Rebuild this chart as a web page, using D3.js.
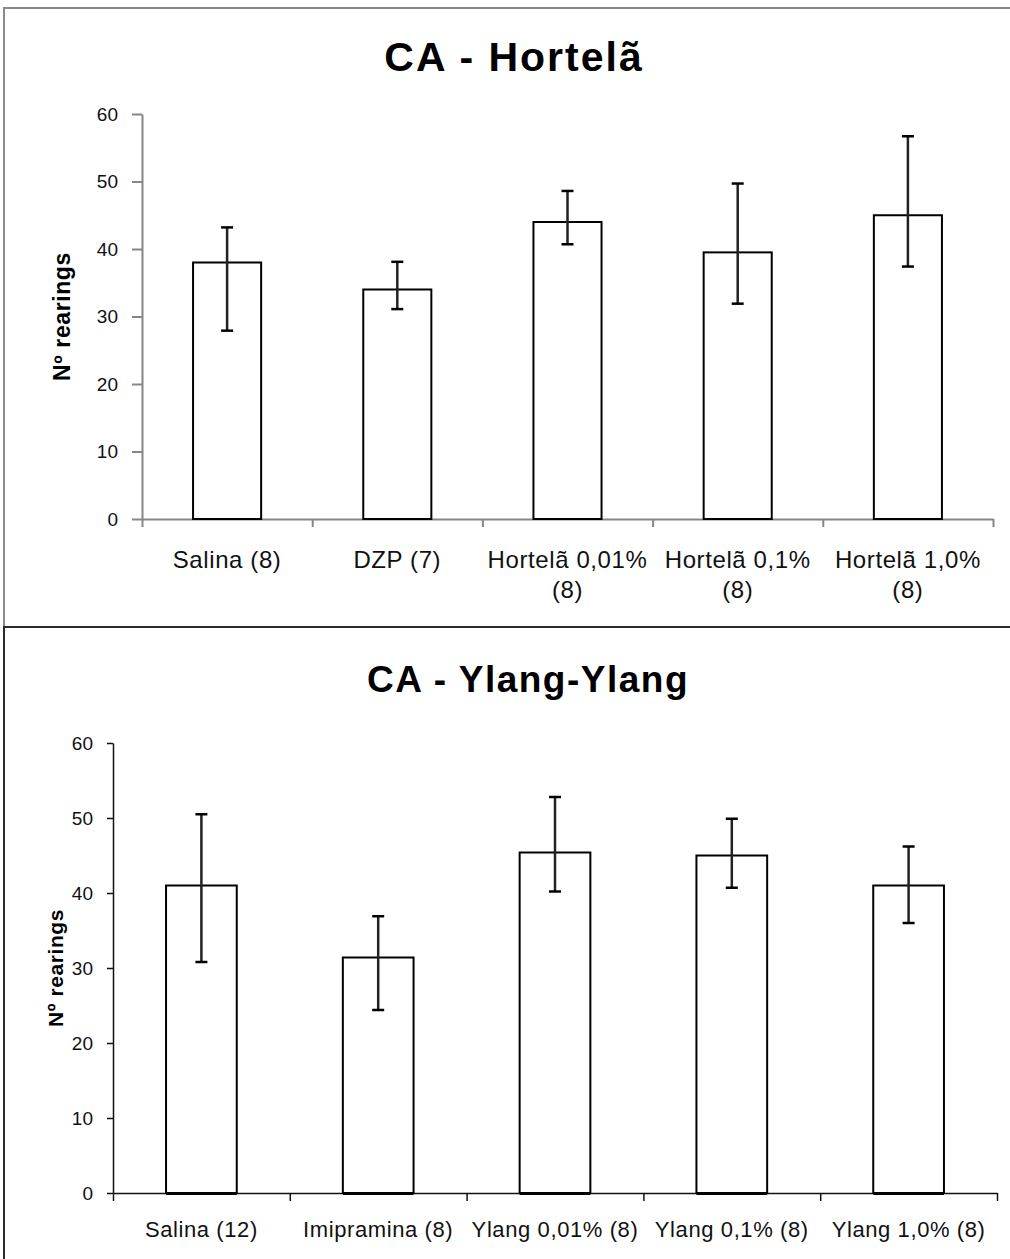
<!DOCTYPE html>
<html>
<head>
<meta charset="utf-8">
<script src="https://cdn.jsdelivr.net/npm/d3@7"></script>
<style>
  body { margin: 0; background: #fff; }
  text { font-family: "Liberation Sans", Arial, sans-serif; }
</style>
</head>
<body>
<script>
// ---- data ----
const topCategories = ["Salina (8)", "DZP (7)", "Hortelã 0,01%\n(8)", "Hortelã 0,1%\n(8)", "Hortelã 1,0%\n(8)"];
const topMeans = [38, 34, 44, 39.5, 45];
const topErrHigh = [43.2, 38.1, 48.6, 49.7, 56.7];
const topErrLow = [27.9, 31.1, 40.7, 31.9, 37.4];

const bottomCategories = ["Salina (12)", "Imipramina (8)", "Ylang 0,01% (8)", "Ylang 0,1% (8)", "Ylang 1,0% (8)"];
const bottomMeans = [41, 31.4, 45.4, 45, 41];
const bottomErrHigh = [50.5, 36.9, 52.8, 49.9, 46.2];
const bottomErrLow = [30.8, 24.4, 40.2, 40.7, 36];

const yTicks = [0, 10, 20, 30, 40, 50, 60];

const W = 1010, H = 1259;

const svg = d3.select("body")
    .append("svg")
    .attr("width", W)
    .attr("height", H);

// panel frames
svg.append("rect")
    .attr("x", 4).attr("y", 8)
    .attr("width", W + 10).attr("height", 619)
    .attr("fill", "none")
    .attr("stroke", "#8a8a8a")
    .attr("stroke-width", 2);

svg.append("rect")
    .attr("x", 4).attr("y", 627)
    .attr("width", W + 10).attr("height", H)
    .attr("fill", "none")
    .attr("stroke", "#2a2a2a")
    .attr("stroke-width", 2);

function drawPanel(p) {
    const g = svg.append("g");

    const x = d3.scaleBand()
        .domain(p.categories)
        .range([p.x0, p.x1])
        .paddingInner(0.6)
        .paddingOuter(0.3);

    const xEdge = d3.scaleLinear()
        .domain([0, p.categories.length])
        .range([p.x0, p.x1]);

    const y = d3.scaleLinear()
        .domain([0, 60])
        .range([p.y0, p.y1]);

    // title
    g.append("text")
        .attr("x", p.titleX)
        .attr("y", p.titleY)
        .attr("text-anchor", "middle")
        .attr("font-weight", "bold")
        .attr("font-size", p.titleSize)
        .attr("letter-spacing", p.titleSpacing)
        .text(p.title);

    // y axis
    const yAxis = g.append("g")
        .attr("transform", `translate(${p.x0},0)`)
        .call(d3.axisLeft(y)
            .tickValues(yTicks)
            .tickSize(p.yTickLen)
            .tickPadding(p.yTickPad)
            .tickSizeOuter(0));
    yAxis.select(".domain").attr("stroke", p.axisColor).attr("stroke-width", p.axisWidth);
    yAxis.selectAll(".tick line").attr("stroke", p.axisColor).attr("stroke-width", p.axisWidth);
    yAxis.selectAll(".tick text")
        .attr("font-family", "Liberation Sans, Arial, sans-serif")
        .attr("font-size", 19)
        .attr("fill", "#111");

    // x axis line with ticks on category edges
    const xAxis = g.append("g")
        .attr("transform", `translate(0,${p.y0})`)
        .call(d3.axisBottom(xEdge)
            .tickValues(d3.range(p.categories.length + 1))
            .tickSize(p.xTickLen)
            .tickSizeOuter(0)
            .tickFormat(""));
    xAxis.select(".domain").attr("stroke", p.axisColor).attr("stroke-width", p.axisWidth);
    xAxis.selectAll(".tick line").attr("stroke", p.axisColor).attr("stroke-width", p.axisWidth);

    // y title
    g.append("text")
        .attr("transform", `translate(${p.yTitleX},${(p.y0 + p.y1) / 2}) rotate(-90)`)
        .attr("text-anchor", "middle")
        .attr("font-weight", "bold")
        .attr("font-size", p.yTitleSize)
        .attr("letter-spacing", 0.6)
        .text("Nº rearings");

    // bars
    const rows = p.categories.map((c, i) => ({
        cat: c, mean: p.means[i], hi: p.errHigh[i], lo: p.errLow[i]
    }));

    g.selectAll(".bar")
        .data(rows)
        .enter()
        .append("rect")
        .attr("class", "bar")
        .attr("x", (d) => x(d.cat))
        .attr("y", (d) => y(d.mean))
        .attr("width", x.bandwidth())
        .attr("height", (d) => y(0) - y(d.mean))
        .attr("fill", "#fff")
        .attr("stroke", "#000")
        .attr("stroke-width", 2);

    if (p.thickBase) {
        g.selectAll(".bar-base")
            .data(rows)
            .enter()
            .append("line")
            .attr("x1", (d) => x(d.cat))
            .attr("x2", (d) => x(d.cat) + x.bandwidth())
            .attr("y1", y(0) + 0.5)
            .attr("y2", y(0) + 0.5)
            .attr("stroke", "#000")
            .attr("stroke-width", 3);
    }

    // error bars
    const cx = (d) => x(d.cat) + x.bandwidth() / 2;
    g.selectAll(".err")
        .data(rows)
        .enter()
        .append("line")
        .attr("x1", cx).attr("x2", cx)
        .attr("y1", (d) => y(d.hi))
        .attr("y2", (d) => y(d.lo))
        .attr("stroke", "#222")
        .attr("stroke-width", 2.5);

    ["hi", "lo"].forEach((k) => {
        g.selectAll(".cap-" + k)
            .data(rows)
            .enter()
            .append("line")
            .attr("x1", (d) => cx(d) - 6)
            .attr("x2", (d) => cx(d) + 6)
            .attr("y1", (d) => y(d[k]))
            .attr("y2", (d) => y(d[k]))
            .attr("stroke", "#000")
            .attr("stroke-width", 2.5);
    });

    // category labels
    const lab = g.selectAll(".xlab")
        .data(p.categories)
        .enter()
        .append("text")
        .attr("class", "xlab")
        .attr("text-anchor", "middle")
        .attr("font-size", p.xLabelSize)
        .attr("letter-spacing", 0.6)
        .attr("fill", "#111");
    lab.each(function(d) {
        const lines = d.split("\n");
        const t = d3.select(this);
        lines.forEach((line, i) => {
            t.append("tspan")
                .attr("x", x(d) + x.bandwidth() / 2)
                .attr("y", p.xLabelY + i * 30)
                .text(line);
        });
    });
}

drawPanel({
    title: "CA - Hortelã",
    titleX: 514, titleY: 71, titleSize: 41, titleSpacing: 2,
    categories: topCategories,
    means: topMeans, errHigh: topErrHigh, errLow: topErrLow,
    x0: 142, x1: 993, y0: 519, y1: 114,
    axisColor: "#868686", axisWidth: 2,
    yTickLen: 10, yTickPad: 14, xTickLen: 8,
    yTitleX: 70, yTitleSize: 23,
    xLabelSize: 24, xLabelY: 568,
    thickBase: false
});

drawPanel({
    title: "CA - Ylang-Ylang",
    titleX: 528, titleY: 692, titleSize: 37, titleSpacing: 1.5,
    categories: bottomCategories,
    means: bottomMeans, errHigh: bottomErrHigh, errLow: bottomErrLow,
    x0: 113, x1: 997, y0: 1193, y1: 743,
    axisColor: "#111", axisWidth: 1.5,
    yTickLen: 6, yTickPad: 14, xTickLen: 8,
    yTitleX: 63, yTitleSize: 21,
    xLabelSize: 22, xLabelY: 1237,
    thickBase: true
});
</script>
</body>
</html>
